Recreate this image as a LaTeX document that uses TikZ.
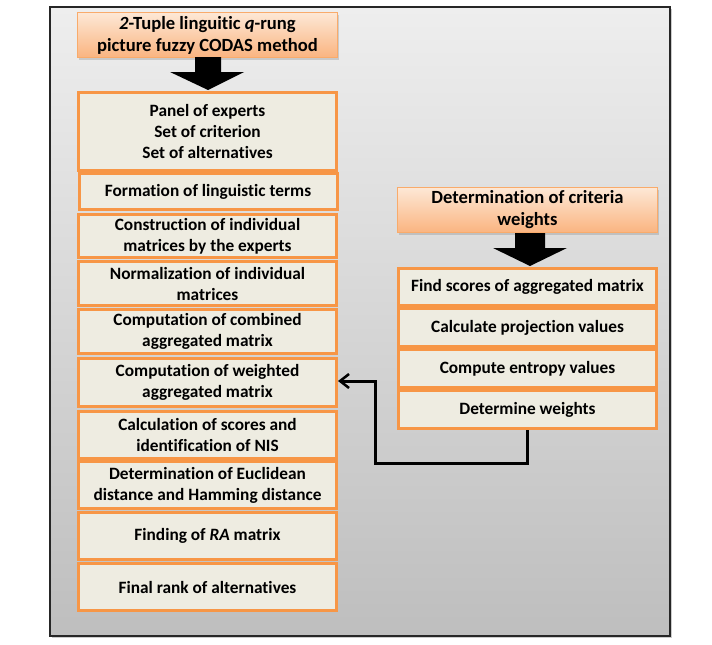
\documentclass[tikz,border=0pt]{standalone}
\usepackage{fontspec}
\setmainfont{Carlito}[Ligatures=NoCommon]
\usetikzlibrary{arrows.meta,shadows}
\definecolor{boxorange}{RGB}{247,150,70}
\definecolor{boxfill}{RGB}{238,236,225}
\definecolor{ttop}{RGB}{253,232,214}
\definecolor{tbot}{RGB}{250,180,128}
\definecolor{bgtop}{RGB}{238,238,238}
\definecolor{bgbot}{RGB}{190,190,190}
\tikzset{
  stepbox/.style={draw=boxorange, line width=3pt, fill=boxfill, minimum width=258pt,
    align=center, inner sep=0pt, font=\fontsize{17.3}{21}\selectfont\bfseries},
  titlebox/.style={draw=boxorange!80, line width=0.8pt, top color=ttop, bottom color=tbot,
    minimum width=260pt, minimum height=45pt, align=center, inner sep=0pt,
    font=\fontsize{18.6}{22}\selectfont\bfseries,
    drop shadow={shadow xshift=1.5pt, shadow yshift=-2pt, opacity=0.3}},
  bigarrow/.style={fill=black},
  conn/.style={draw=black, line width=3pt, -{Straight Barb[length=9pt,width=14pt,line width=2.5pt]}},
}
\begin{document}
\begin{tikzpicture}[x=1pt,y=-1pt]
\useasboundingbox (0,0) rectangle (712,645);
% outer frame
\path[drop shadow={shadow xshift=2pt, shadow yshift=-2pt, opacity=0.4}, top color=bgtop, bottom color=bgbot, draw=black!85, line width=1.5pt]
  (50,7) rectangle (670,636);

% left title
\node[titlebox] (t1) at (207.5,35) {\textit{2}-Tuple linguitic \textit{q}-rung\\picture fuzzy CODAS method};
% left arrow
\coordinate (a1) at (208,90);
\fill[bigarrow] (195,57) -- (221,57) -- (221,72) -- (244,72) -- (a1) -- (170,72) -- (195,72) -- cycle;

% left column
\node[stepbox, minimum height=78pt] (b1) at (207.5,131.5) {Panel of experts\\Set of criterion\\Set of alternatives};
\node[stepbox, minimum height=36pt] (b2) at (208,191.5) {Formation of linguistic terms};
\node[stepbox, minimum height=43pt] (b3) at (207.5,236) {Construction of individual\\matrices by the experts};
\node[stepbox, minimum height=44pt] (b4) at (207.5,283.5) {Normalization of individual\\matrices};
\node[stepbox, minimum height=44pt] (b5) at (207.5,331.5) {Computation of combined\\aggregated matrix};
\node[stepbox, minimum height=48pt] (b6) at (207.5,382.5) {Computation of weighted\\aggregated matrix};
\node[stepbox, minimum height=47pt] (b7) at (207.5,435) {Calculation of scores and\\identification of NIS};
\node[stepbox, minimum height=47pt] (b8) at (207.5,485) {Determination of Euclidean\\distance and Hamming distance};
\node[stepbox, minimum height=47pt] (b9) at (207.5,536) {Finding of \textit{RA} matrix};
\node[stepbox, minimum height=47pt] (b10) at (207.5,587) {Final rank of alternatives};

% right title
\node[titlebox] (t2) at (527.5,210) {Determination of criteria\\weights};
\coordinate (a2) at (530,266);
\fill[bigarrow] (515,233) -- (545,233) -- (545,248) -- (567,248) -- (a2) -- (493,248) -- (515,248) -- cycle;

% right column
\node[stepbox, minimum height=37pt] (w1) at (527.5,287) {Find scores of aggregated matrix};
\node[stepbox, minimum height=38pt] (w2) at (527.5,327.5) {Calculate projection values};
\node[stepbox, minimum height=38pt] (w3) at (527.5,368.5) {Compute entropy values};
\node[stepbox, minimum height=38pt] (w4) at (527.5,409.5) {Determine weights};

% connector
\coordinate (c1) at (375,463);
\draw[conn] (w4.south) |- (c1) |- ([yshift=1.5pt]b6.east);
\end{tikzpicture}
\end{document}
